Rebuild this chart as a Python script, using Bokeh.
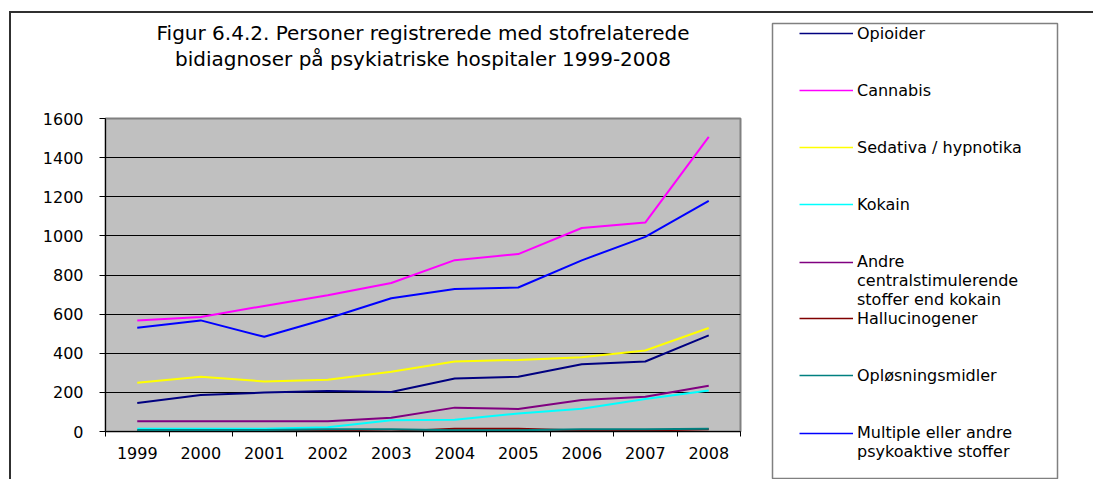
from bokeh.plotting import figure
from bokeh.models import Range1d, FixedTicker, Legend, LegendItem, Title, Spacer, Div
from bokeh.layouts import row, column
from bokeh.embed import file_html
from bokeh.resources import INLINE

years = ["1999", "2000", "2001", "2002", "2003", "2004", "2005", "2006", "2007", "2008"]
opioider = [146, 186, 199, 207, 202, 271, 280, 344, 358, 491]
cannabis = [568, 585, 642, 697, 759, 876, 907, 1040, 1068, 1506]
sedativa = [249, 280, 256, 264, 305, 358, 366, 380, 414, 529]
kokain = [14, 14, 14, 22, 57, 60, 92, 116, 166, 209]
andre = [52, 52, 52, 52, 70, 122, 115, 161, 178, 234]
hallucinogener = [4, 4, 4, 5, 0, 14, 14, 5, 5, 12]
oplosningsmidler = [8, 8, 8, 12, 12, 7, 7, 12, 12, 14]
multiple = [530, 568, 484, 578, 681, 729, 736, 875, 995, 1179]
y_ticks = [0, 200, 400, 600, 800, 1000, 1200, 1400, 1600]

# leading blank lines keep the legend line level with the first text line
names = ["Opioider", "Cannabis", "Sedativa / hypnotika", "Kokain",
         "\n\nAndre\ncentralstimulerende\nstoffer end kokain", "Hallucinogener",
         "Opløsningsmidler", "\nMultiple eller andre\npsykoaktive stoffer"]
values = [opioider, cannabis, sedativa, kokain, andre, hallucinogener, oplosningsmidler, multiple]
colors = ["#000080", "#FF00FF", "#FFFF00", "#00FFFF", "#800080", "#800000", "#008080", "#0000FF"]

FONT = "DejaVu Sans"
BORDER = "#303030"
xs = list(range(len(years)))

# ---- chart ----
pA = figure(width=753, height=466, output_backend="svg", toolbar_location=None, title=None,
            x_range=Range1d(-0.5, len(years) - 0.5), y_range=Range1d(0, 1600),
            min_border_left=94, min_border_right=24, min_border_top=105, min_border_bottom=48)
pA.background_fill_color = "#C0C0C0"
pA.border_fill_color = "white"
pA.outline_line_color = "#808080"
pA.outline_line_width = 2

pA.xgrid.grid_line_color = None
pA.ygrid.grid_line_color = "black"
pA.ygrid.ticker = FixedTicker(ticks=y_ticks)

pA.xaxis.ticker = FixedTicker(ticks=xs, minor_ticks=[i - 0.5 for i in range(len(years) + 1)])
pA.xaxis.major_label_overrides = {i: y for i, y in enumerate(years)}
pA.xaxis.major_tick_line_color = None
pA.xaxis.major_tick_out = 0
pA.xaxis.major_tick_in = 0
pA.xaxis.minor_tick_line_color = "black"
pA.xaxis.minor_tick_out = 5
pA.xaxis.minor_tick_in = 0
pA.xaxis.major_label_standoff = 10

pA.yaxis.ticker = FixedTicker(ticks=y_ticks)
pA.yaxis.major_tick_out = 6
pA.yaxis.major_tick_in = 0
pA.yaxis.minor_tick_line_color = None
pA.yaxis.major_label_standoff = 16

for ax in (pA.xaxis[0], pA.yaxis[0]):
    ax.axis_line_color = "black"
    ax.major_label_text_font = FONT
    ax.major_label_text_font_size = "16px"
    ax.major_label_text_color = "black"

for vals, color in zip(values, colors):
    pA.line(xs, vals, line_color=color, line_width=2)

gap = Title(text=" ", text_font_size="1px", standoff=45)
t2 = Title(text="bidiagnoser på psykiatriske hospitaler 1999-2008", align="center",
           text_font=FONT, text_font_size="20px", text_font_style="normal",
           text_color="black", standoff=0)
t1 = Title(text="Figur 6.4.2. Personer registrerede med stofrelaterede", align="center",
           text_font=FONT, text_font_size="20px", text_font_style="normal",
           text_color="black", standoff=0)
pA.add_layout(gap, "above")
pA.add_layout(t2, "above")
pA.add_layout(t1, "above")

# ---- legend panel (its frame outline is the legend box) ----
pB = figure(width=329, height=466, output_backend="svg", toolbar_location=None, title=None,
            x_range=Range1d(-0.5, len(years) - 0.5), y_range=Range1d(-2, -1),
            x_axis_location=None, y_axis_location=None,
            min_border_left=8, min_border_right=36, min_border_top=10, min_border_bottom=0)
pB.background_fill_color = "white"
pB.border_fill_color = "white"
pB.outline_line_color = "#808080"
pB.outline_line_width = 1.5
pB.grid.visible = False

for fig in (pA, pB):
    try:
        fig.frame_align = False
    except Exception:
        pass

items = []
for name, vals, color in zip(names, values, colors):
    # same series, outside this panel's visible range: only its legend glyph shows
    r = pB.line(xs, vals, line_color=color, line_width=1.5)
    items.append(LegendItem(label=name, renderers=[r]))

common = dict(padding=0, spacing=37, label_height=20, glyph_height=20, glyph_width=54,
              label_standoff=4, label_text_font=FONT, label_text_font_size="16px",
              label_text_color="black", border_line_color=None, background_fill_alpha=0)
groups = [(items[0:4], (27, 265)), (items[4:5], (27, 170)),
          (items[5:7], (27, 94)), (items[7:8], (27, 18))]
for group, loc in groups:
    pB.add_layout(Legend(items=group, location=loc, **common), "center")

# ---- outer chart border ----
top_line = row(Spacer(width=9, height=2),
               Div(width=1084, height=2, margin=0, styles={"background-color": BORDER}))
body = row(Spacer(width=9, height=466),
           Div(width=2, height=466, margin=0, styles={"background-color": BORDER}),
           pA, column(pB))
layout = column(Spacer(width=1093, height=11), top_line, body)

open("out.html", "w").write(file_html(layout, INLINE))
